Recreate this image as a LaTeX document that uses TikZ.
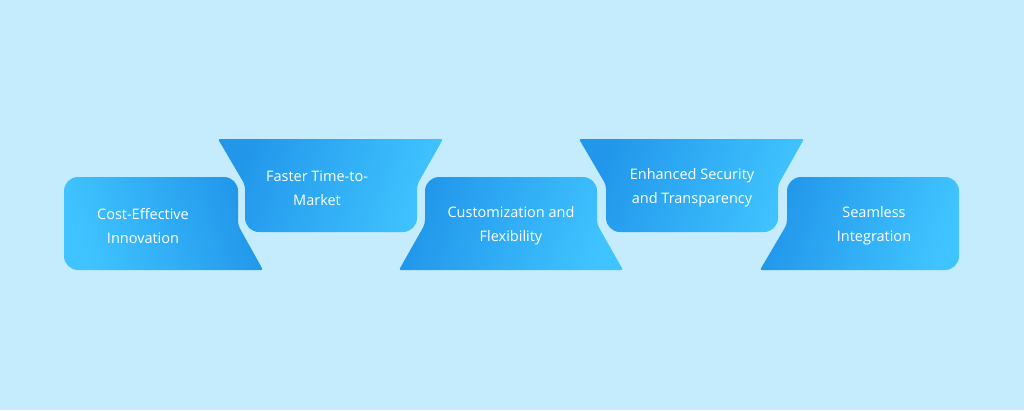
\documentclass[tikz,border=0pt]{standalone}
\usepackage{fontspec}
\setmainfont{Open Sans}
\definecolor{bg}{HTML}{C5ECFD}
\definecolor{lite}{HTML}{40C4FF}
\definecolor{dark}{HTML}{2196EA}
\begin{document}
\begin{tikzpicture}[x=1pt,y=-1pt,
  lbl/.style={text=white,font=\fontsize{14.5}{24}\selectfont,align=center},
  ltr/.style={left color=dark,right color=lite,shading angle=70},
  rtl/.style={left color=lite,right color=dark,shading angle=110}]
\fill[bg] (0,0) rectangle (1024,410);
\useasboundingbox (0,0) rectangle (1024,410);
% box1
\shade[rtl,rounded corners=14pt] (64,177) -- (238,177) [rounded corners=4pt] -- (238,225) [rounded corners=2pt] -- (263,270) [rounded corners=14pt] -- (64,270) -- cycle;
% box2
\shade[ltr,rounded corners=2pt] (218,139) -- (443,139) [rounded corners=4pt] -- (417,185) [rounded corners=14pt] -- (417,232) -- (245,232) [rounded corners=4pt] -- (245,185) [rounded corners=2pt] -- cycle;
% box3
\shade[ltr,rounded corners=14pt] (425,177) -- (597,177) [rounded corners=4pt] -- (597,224) [rounded corners=2pt] -- (623,270) -- (399,270) [rounded corners=4pt] -- (425,224) [rounded corners=14pt] -- cycle;
% box4
\shade[ltr,rounded corners=2pt] (579,139) -- (804,139) [rounded corners=4pt] -- (778,185) [rounded corners=14pt] -- (778,232) -- (606,232) [rounded corners=4pt] -- (606,185) [rounded corners=2pt] -- cycle;
% box5
\shade[ltr,rounded corners=14pt] (787,177) -- (959,177) -- (959,270) [rounded corners=2pt] -- (760,270) [rounded corners=4pt] -- (787,224) [rounded corners=14pt] -- cycle;
\node[lbl] (t1) at (143,226) {Cost-Effective\\Innovation};
\node[lbl] (t2) at (317,188) {Faster Time-to-\\Market};
\node[lbl] (t3) at (511,226) {Customization and\\Flexibility};
\node[lbl] (t4) at (692,188) {Enhanced Security\\and Transparency};
\node[lbl] (t5) at (874,226) {Seamless\\Integration};
\end{tikzpicture}
\end{document}
